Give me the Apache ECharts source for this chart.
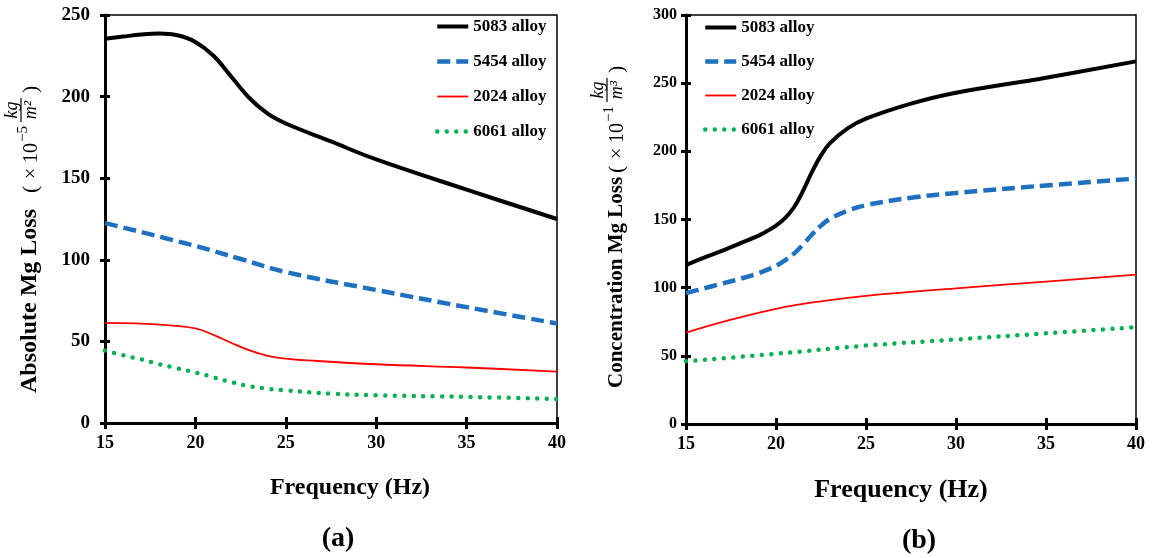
<!DOCTYPE html>
<html>
<head>
<meta charset="utf-8">
<script src="https://cdn.jsdelivr.net/npm/echarts@6/dist/echarts.min.js"></script>
<style>html,body{margin:0;padding:0;background:#fff}#c{width:1154px;height:558px}</style>
</head>
<body>
<div id="c"></div>
<script>
// ---- data ----
const seriesNames = ['5083 alloy', '5454 alloy', '2024 alloy', '6061 alloy'];
const xTicks = [15, 20, 25, 30, 35, 40];

// Panel (a): Absolute Mg loss
const fA5083 = [15, 16, 17, 18, 19, 20, 21, 22, 23, 24, 25, 27.5, 30, 35, 40];
const vA5083 = [235.5, 236.8, 238, 238.6, 237.6, 233.5, 225, 212, 199, 189.5, 183.5, 172.5, 161.5, 143, 125];
const fA5454 = [15, 20, 22.5, 25, 30, 35, 40];
const vA5454 = [122.5, 108.5, 100.5, 92.5, 81.5, 71, 61];
const fA2024 = [15, 18, 20, 21, 22, 23, 24, 25, 26, 30, 35, 40];
const vA2024 = [61.3, 60.3, 58, 54, 49, 44.5, 41.2, 39.4, 38.5, 36, 34, 31.5];
const fA6061 = [15, 16, 17, 18, 19, 20, 21, 22, 23, 24, 25, 27.5, 30, 35, 40];
const vA6061 = [44.5, 41.5, 39, 36, 33.5, 31, 28, 25, 22.5, 21, 20, 18, 17, 16, 14.7];

// Panel (b): Concentration Mg loss
const fB5083 = [15, 16, 17, 18, 19, 19.5, 20, 20.5, 21, 21.5, 22, 22.5, 23, 24, 25, 27.5, 30, 35, 40];
const vB5083 = [116.6, 122, 127, 132.5, 138, 141.5, 145.5, 151, 159, 171, 185, 197, 206, 217, 224, 235, 243, 254, 266];
const fB5454 = [15, 16, 17, 18, 19, 19.5, 20, 20.5, 21, 21.5, 22, 22.5, 23, 24, 25, 27.5, 30, 35, 40];
const vB5454 = [96, 99.5, 103, 106.5, 110.5, 113, 116, 120, 125, 131.5, 139, 145.5, 150.5, 156.5, 160.5, 166, 169.5, 175, 180];
const fB2024 = [15, 17.5, 20, 22.5, 25, 30, 35, 40];
const vB2024 = [67, 76.5, 84.5, 90, 94, 99.5, 104.5, 109.5];
const fB6061 = [15, 20, 25, 30, 35, 40];
const vB6061 = [46, 51.5, 57.5, 62, 66.5, 71];

const yTicksA = [0, 50, 100, 150, 200, 250];
const yTicksB = [0, 50, 100, 150, 200, 250, 300];

// ---- styles ----
const FONT = 'Liberation Serif';
const styles = [
  {color: '#000000', width: 4, type: 'solid', cap: 'butt'},
  {color: '#1f70c1', width: 4.5, type: [13, 6], cap: 'butt'},
  {color: '#ff0000', width: 1.8, type: 'solid', cap: 'butt'},
  {color: '#00b050', width: 4.5, type: [0, 9.5], cap: 'round'}
];
const zip = (f, v) => f.map((x, i) => [x, v[i]]);
const panelData = [
  [zip(fA5083, vA5083), zip(fA5454, vA5454), zip(fA2024, vA2024), zip(fA6061, vA6061)],
  [zip(fB5083, vB5083), zip(fB5454, vB5454), zip(fB2024, vB2024), zip(fB6061, vB6061)]
];

const grids = [
  {left: 105, top: 15, width: 452, height: 408, show: true, borderColor: '#000', borderWidth: 1.5, backgroundColor: 'transparent'},
  {left: 686, top: 15, width: 450, height: 409, show: true, borderColor: '#000', borderWidth: 1.5, backgroundColor: 'transparent'}
];

function xAxes(gi, fs, margin) {
  return [
    {type: 'value', gridIndex: gi, min: xTicks[0], max: xTicks[xTicks.length - 1], interval: 5,
     axisLine: {show: true, onZero: false, lineStyle: {color: '#000', width: 3}},
     axisTick: {show: true, inside: false, length: 6, lineStyle: {color: '#000', width: 3}},
     axisLabel: {show: true, margin: margin, color: '#000', fontFamily: FONT, fontWeight: 'bold', fontSize: fs, showMinLabel: true, showMaxLabel: true},
     splitLine: {show: false}},
    {type: 'value', gridIndex: gi, position: 'bottom', min: xTicks[0], max: xTicks[xTicks.length - 1], interval: 5,
     axisLine: {show: false, onZero: false},
     axisTick: {show: true, inside: true, length: 6, lineStyle: {color: '#000', width: 3}},
     axisLabel: {show: false}, splitLine: {show: false}}
  ];
}
function yAxes(gi, ticks, fs, margin) {
  const mx = ticks[ticks.length - 1];
  return [
    {type: 'value', gridIndex: gi, min: 0, max: mx, interval: 50,
     axisLine: {show: true, onZero: false, lineStyle: {color: '#000', width: 3}},
     axisTick: {show: true, inside: false, length: 5, lineStyle: {color: '#000', width: 3}},
     axisLabel: {show: true, margin: margin, color: '#000', fontFamily: FONT, fontWeight: 'bold', fontSize: fs},
     splitLine: {show: false}},
    {type: 'value', gridIndex: gi, position: 'left', min: 0, max: mx, interval: 50,
     axisLine: {show: false, onZero: false},
     axisTick: {show: true, inside: true, length: 5, lineStyle: {color: '#000', width: 3}},
     axisLabel: {show: false}, splitLine: {show: false}}
  ];
}

const series = [];
for (let p = 0; p < 2; p++) {
  for (let s = 0; s < 4; s++) {
    const st = styles[s];
    series.push({
      type: 'line', name: seriesNames[s], xAxisIndex: p * 2, yAxisIndex: p * 2,
      data: panelData[p][s], smooth: 0.4, symbol: 'none', showSymbol: false,
      lineStyle: {color: st.color, width: st.width, type: st.type, cap: st.cap},
      itemStyle: {color: st.color}, z: 3 + (3 - s)
    });
  }
}

function legend(left, top, gap) {
  return {
    data: seriesNames.map((n, i) => ({
      name: n,
      itemStyle: {opacity: 0, color: 'transparent', borderWidth: 0},
      lineStyle: {color: styles[i].color, width: styles[i].width, type: styles[i].type, cap: styles[i].cap, opacity: 1}
    })),
    orient: 'vertical', left: left, top: top, padding: 0,
    itemWidth: 31, itemHeight: 14, itemGap: gap, selectedMode: false,
    textStyle: {color: '#000', fontFamily: FONT, fontWeight: 'bold', fontSize: 17}
  };
}

// rotated y-axis titles with fraction units
function yTitle(x0, y0, main, mainSize, mainLen, exp, mden) {
  const reg = (s) => 'normal ' + s + 'px "' + FONT + '"';
  const ita = (s) => 'italic ' + s + 'px "' + FONT + '"';
  const a = mainLen + 14;
  return {
    type: 'group', x: x0, y: y0, rotation: Math.PI / 2, silent: true,
    children: [
      {type: 'text', x: 0, y: -Math.round(mainSize * 0.33), style: {text: main, font: 'bold ' + mainSize + 'px "' + FONT + '"', fill: '#000', align: 'left', verticalAlign: 'middle'}},
      {type: 'text', x: a, y: -7, style: {text: '(', font: reg(22), fill: '#000', align: 'left', verticalAlign: 'middle'}},
      {type: 'text', x: a + 14, y: -6, style: {text: '×', font: reg(20), fill: '#000', align: 'left', verticalAlign: 'middle'}},
      {type: 'text', x: a + 30, y: -6, style: {text: '10', font: reg(20), fill: '#000', align: 'left', verticalAlign: 'middle'}},
      {type: 'text', x: a + 51, y: -15, style: {text: exp, font: reg(15), fill: '#000', align: 'left', verticalAlign: 'middle'}},
      {type: 'text', x: a + 83, y: -26, style: {text: 'kg', font: ita(18), fill: '#000', align: 'center', verticalAlign: 'middle'}},
      {type: 'line', shape: {x1: a + 71, y1: -17, x2: a + 95, y2: -17}, style: {stroke: '#000', lineWidth: 1.2}},
      {type: 'text', x: a + 83, y: -7, style: {text: mden, font: ita(18), fill: '#000', align: 'center', verticalAlign: 'middle'}},
      {type: 'text', x: a + 100, y: -7, style: {text: ')', font: reg(22), fill: '#000', align: 'left', verticalAlign: 'middle'}}
    ]
  };
}

const textEl = (x, y, t, size) => ({type: 'text', x: x, y: y, silent: true,
  style: {text: t, font: 'bold ' + size + 'px "' + FONT + '"', fill: '#000', align: 'center', verticalAlign: 'middle'}});

const option = {
  animation: false,
  backgroundColor: '#fff',
  grid: grids,
  xAxis: [...xAxes(0, 18, 11), ...xAxes(1, 18, 11)],
  yAxis: [...yAxes(0, yTicksA, 19, 15), ...yAxes(1, yTicksB, 16, 9)],
  legend: [legend(435, 18, 18), legend(703, 19, 17)],
  series: series,
  graphic: [
    yTitle(38, 393, 'Absolute Mg Loss', 24, 186, '−5', 'm²'),
    yTitle(624, 388, 'Concentration Mg Loss', 21, 201, '−1', 'm³'),
    textEl(350, 488, 'Frequency (Hz)', 24),
    textEl(901, 490, 'Frequency (Hz)', 26),
    textEl(338, 539, '(a)', 28),
    textEl(919, 541, '(b)', 28)
  ]
};

const chart = echarts.init(document.getElementById('c'), null, {renderer: 'canvas'});
chart.setOption(option);
</script>
</body>
</html>
